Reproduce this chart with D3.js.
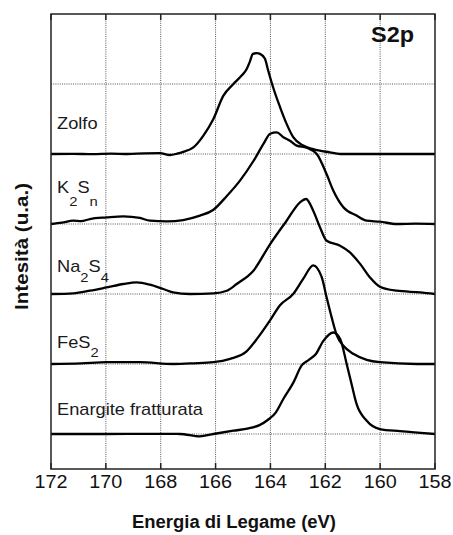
<!DOCTYPE html>
<meta charset="utf-8">
<style>
body { margin: 0; background: #fff; }
svg { font-family: "Liberation Sans", Arial, Helvetica, sans-serif; }
.grid line { stroke: #555; stroke-width: 1px; stroke-dasharray: 1,1.2; }
.frame { fill: none; stroke: #222; stroke-width: 1.5px; }
.tick line { stroke: #222; stroke-width: 1.5px; }
.spectrum { fill: none; stroke: #000; stroke-width: 2.3px; stroke-linejoin: round; }
.tlabel { font-size: 18px; fill: #111; }
.clabel { font-size: 16px; fill: #1a1a1a; }
.axtitle { font-size: 17.5px; font-weight: bold; fill: #111; }
</style>
<body>
<script src="https://cdn.jsdelivr.net/npm/d3@7"></script>
<script>

// spectra, [binding energy eV, intensity above own baseline]
var zolfo = [[172,0],[171.2,0.003],[170.5,-0.003],[169.8,0.005],[169.2,0.0],[168.6,0.01],[168.03,0.012],
  [167.66,-0.014],[167.4,0.005],[167.18,0.03],[166.81,0.094],[166.45,0.26],[166.08,0.5],[165.72,0.83],
  [165.35,1.0],[165.05,1.12],[164.87,1.21],[164.75,1.32],[164.64,1.43],[164.5,1.44],[164.38,1.43],
  [164.2,1.36],[164.08,1.19],[163.9,0.95],[163.65,0.67],[163.41,0.43],[163.17,0.24],[162.8,0.12],
  [162.44,0.07],[161.83,0.023],[161.46,0],[160.5,0],[159.4,0],[158,0]];

var k2sn = [[172,0],[171.6,0.02],[171.19,0.047],[170.9,0.04],[170.58,0.071],[169.97,0.094],[169.36,0.109],
  [168.76,0.086],[168.39,0.047],[167.78,0.037],[167.18,0.057],[166.57,0.119],[166.09,0.2],[165.59,0.4],
  [165.11,0.62],[164.62,0.9],[164.26,1.14],[164.01,1.29],[163.77,1.31],[163.53,1.24],[163.29,1.19],
  [163.04,1.12],[162.68,1.09],[162.31,1.0],[161.95,0.71],[161.71,0.48],[161.34,0.24],[160.86,0.12],
  [160.49,0.047],[160.01,0.033],[159.4,0],[158.7,0.005],[158,0]];

var na2s4 = [[172,0],[171.19,0.01],[170.58,0.047],[169.97,0.094],[169.36,0.143],[168.88,0.166],[168.39,0.133],
  [167.91,0.071],[167.55,0.023],[166.94,0],[166.08,0.01],[165.59,0.047],[165.23,0.143],[164.62,0.333],
  [164.01,0.714],[163.41,1.047],[162.92,1.31],[162.7,1.357],[162.44,1.19],[162.19,0.95],[161.95,0.76],
  [161.46,0.69],[161.1,0.594],[160.73,0.43],[160.37,0.237],[160.01,0.104],[159.4,0.047],[158.55,0.023],[158,0]];

var fes2 = [[172,0],[170.9,0.01],[169.97,0.026],[168.76,0.026],[167.54,0],[166.8,0.01],[166.08,0.026],
  [165.47,0.074],[164.87,0.18],[164.45,0.38],[164.02,0.62],[163.65,0.84],[163.17,1.0],[162.8,1.22],
  [162.44,1.41],[162.13,1.24],[161.95,0.95],[161.77,0.67],[161.58,0.41],[161.34,0.26],[160.98,0.146],
  [160.49,0.06],[160.01,0.026],[158.67,0],[158,0]];

var enargite = [[172,0],[170,0],[168.5,0.003],[167.3,0],[166.57,-0.034],[166.08,0],[165.35,0.047],
  [164.8,0.08],[164.38,0.13],[164.1,0.2],[163.8,0.31],[163.53,0.5],[163.17,0.73],[162.86,0.98],
  [162.6,1.06],[162.35,1.14],[162.07,1.33],[161.71,1.45],[161.46,1.36],[161.22,1.0],[161.04,0.71],[160.86,0.43],
  [160.49,0.19],[160.01,0.071],[159.28,0.04],[158,0]];

var spectra = [zolfo, k2sn, na2s4, fes2, enargite];
var offsets = [4, 3, 2, 1, 0];
// label pieces: [text, subscript?]
var names = [
  [["Zolfo", 0]],
  [["K", 0], ["2", 1], ["S", 0], ["n", 1]],
  [["Na", 0], ["2", 1], ["S", 0], ["4", 1]],
  [["FeS", 0], ["2", 1]],
  [["Enargite fratturata", 0]]
];
var xTicks = [172, 170, 168, 166, 164, 162, 160, 158];
var yGrid = [0, 1, 2, 3, 4, 5];

// label layout (px above baseline, subscript drop)
var labelGap = [25, 30.7, 21.7, 15.7, 19.5];
var subDrop = [0, 13, 10, 9, 0];

var W = 453, H = 535;
var x = d3.scaleLinear().domain([172, 158]).range([51, 435]);
var y = d3.scaleLinear().domain([-0.5, 6]).range([469, 14]);

var svg = d3.select("body").append("svg")
    .attr("width", W)
    .attr("height", H);

var grid = svg.append("g").attr("class", "grid");
grid.selectAll("line.v")
    .data(xTicks.slice(1, -1))
  .enter().append("line")
    .attr("class", "v")
    .attr("x1", x).attr("x2", x)
    .attr("y1", y(6)).attr("y2", y(-0.5));
grid.selectAll("line.h")
    .data(yGrid)
  .enter().append("line")
    .attr("class", "h")
    .attr("x1", x(172)).attr("x2", x(158))
    .attr("y1", y).attr("y2", y);

// inward ticks top and bottom
var ticks = svg.append("g").attr("class", "tick");
ticks.selectAll("line.b")
    .data(xTicks)
  .enter().append("line")
    .attr("x1", x).attr("x2", x)
    .attr("y1", y(-0.5)).attr("y2", y(-0.5) - 6);
ticks.selectAll("line.t")
    .data(xTicks)
  .enter().append("line")
    .attr("x1", x).attr("x2", x)
    .attr("y1", y(6)).attr("y2", y(6) + 6);

svg.append("g").selectAll("text")
    .data(xTicks)
  .enter().append("text")
    .attr("class", "tlabel")
    .attr("x", x)
    .attr("y", 488)
    .attr("text-anchor", "middle")
    .attr("textLength", 33)
    .attr("lengthAdjust", "spacingAndGlyphs")
    .text(function(d) { return d; });

var line = d3.line()
    .x(function(d) { return x(d[0]); })
    .curve(d3.curveMonotoneX);

svg.append("g").selectAll("path")
    .data(spectra)
  .enter().append("path")
    .attr("class", "spectrum")
    .attr("d", function(s, i) {
      return line.y(function(d) { return y(d[1] + offsets[i]); })(s);
    });

svg.append("rect")
    .attr("class", "frame")
    .attr("x", x(172)).attr("y", y(6))
    .attr("width", x(158) - x(172))
    .attr("height", y(-0.5) - y(6));

// curve labels
names.forEach(function(parts, i) {
  var t = svg.append("text")
      .attr("class", "clabel")
      .attr("transform", "translate(57," + (y(offsets[i]) - labelGap[i]) + ") scale(1.14,1)");
  var sub = false;
  parts.forEach(function(p) {
    var dy = 0;
    if (p[1] && !sub) dy = subDrop[i];
    if (!p[1] && sub) dy = -subDrop[i];
    sub = !!p[1];
    t.append("tspan")
        .attr("dy", dy)
        .style("font-size", p[1] ? "13px" : null)
        .text(p[0]);
  });
});

svg.append("text")
    .attr("x", 371).attr("y", 41.7)
    .attr("textLength", 43)
    .attr("lengthAdjust", "spacingAndGlyphs")
    .style("font-size", "22px").style("font-weight", "bold").style("fill", "#111")
    .text("S2p");

svg.append("text")
    .attr("class", "axtitle")
    .attr("x", 234).attr("y", 528.3)
    .attr("text-anchor", "middle")
    .attr("textLength", 204)
    .attr("lengthAdjust", "spacingAndGlyphs")
    .text("Energia di Legame (eV)");

svg.append("text")
    .attr("class", "axtitle")
    .attr("transform", "translate(28,246.5) rotate(-90)")
    .attr("text-anchor", "middle")
    .attr("textLength", 127)
    .attr("lengthAdjust", "spacingAndGlyphs")
    .text("Intesità (u.a.)");

</script>
</body>
